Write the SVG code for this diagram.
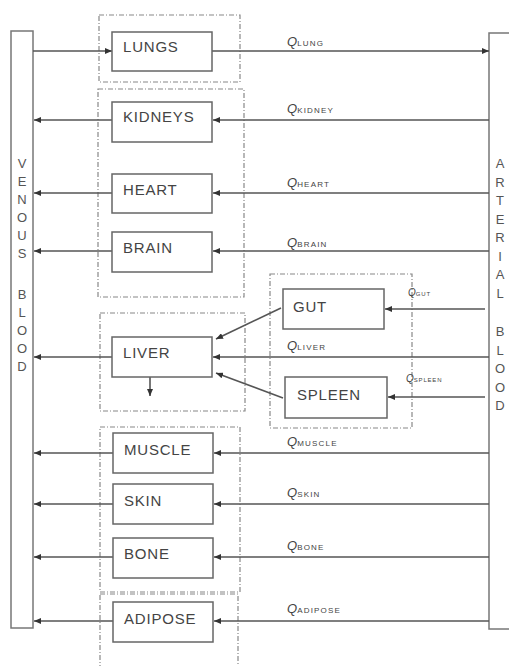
<svg xmlns="http://www.w3.org/2000/svg" width="509" height="666" viewBox="0 0 509 666">
<defs>
<marker id="ah" markerWidth="7" markerHeight="6" refX="7" refY="3" orient="auto" markerUnits="userSpaceOnUse">
<path d="M0,0 L7,3 L0,6 z" fill="#333"/>
</marker>
<style>
.bg{fill:#fff}
.bar{fill:#fff;stroke:#777;stroke-width:1.5}
.box{fill:#fff;stroke:#666;stroke-width:1.5}
.grp{fill:none;stroke:#888;stroke-width:1.2;stroke-dasharray:5,2,1,2}
.lbl{font-family:"Liberation Sans",Arial,sans-serif;font-size:15px;letter-spacing:0.8px;fill:#444}
.vt{font-family:"Liberation Sans",Arial,sans-serif;font-size:13px;fill:#555;text-anchor:middle}
.q{font-family:"Liberation Sans",Arial,sans-serif;font-size:13px;font-style:italic;fill:#444}
.qs{font-size:8px;font-style:normal;letter-spacing:1.2px}
.qsm{font-family:"Liberation Sans",Arial,sans-serif;font-size:10px;font-style:italic;fill:#444}
.qsms{font-size:6px;font-style:normal;letter-spacing:0.8px}
.ln{fill:none;stroke:#555;stroke-width:1.6}
.arr{marker-end:url(#ah)}
</style>
</defs>
<rect class="bg" x="0" y="0" width="509" height="666"/>

<g id="groups">
<rect class="grp" x="99" y="15" width="141" height="67"/>
<rect class="grp" x="98" y="89" width="146" height="208"/>
<rect class="grp" x="100" y="313" width="145" height="98"/>
<rect class="grp" x="270" y="274" width="142" height="154"/>
<rect class="grp" x="100" y="427" width="140" height="165"/>
<rect class="grp" x="100" y="594" width="138" height="90"/>
</g>

<g id="venous-blood">
<rect class="bar" x="11" y="31" width="22" height="597"/>
<text class="vt" x="22" y="168">V</text>
<text class="vt" x="22" y="186">E</text>
<text class="vt" x="22" y="204">N</text>
<text class="vt" x="22" y="222">O</text>
<text class="vt" x="22" y="240">U</text>
<text class="vt" x="22" y="258">S</text>
<text class="vt" x="22" y="299">B</text>
<text class="vt" x="22" y="317">L</text>
<text class="vt" x="22" y="335">O</text>
<text class="vt" x="22" y="353">O</text>
<text class="vt" x="22" y="371">D</text>
</g>

<g id="arterial-blood">
<rect class="bar" x="489" y="33" width="30" height="596"/>
<text class="vt" x="500" y="168">A</text>
<text class="vt" x="500" y="186.5">R</text>
<text class="vt" x="500" y="205">T</text>
<text class="vt" x="500" y="223.5">E</text>
<text class="vt" x="500" y="242">R</text>
<text class="vt" x="500" y="260.5">I</text>
<text class="vt" x="500" y="279">A</text>
<text class="vt" x="500" y="297.5">L</text>
<text class="vt" x="500" y="336">B</text>
<text class="vt" x="500" y="354.5">L</text>
<text class="vt" x="500" y="373">O</text>
<text class="vt" x="500" y="391.5">O</text>
<text class="vt" x="500" y="410">D</text>
</g>

<g id="connectors">
<line class="ln arr" x1="33" y1="51" x2="112" y2="51"/>
<line class="ln arr" x1="212" y1="51" x2="489" y2="51"/>
<line class="ln arr" x1="489" y1="120" x2="213" y2="120"/>
<line class="ln arr" x1="112" y1="120" x2="34" y2="120"/>
<line class="ln arr" x1="489" y1="193" x2="213" y2="193"/>
<line class="ln arr" x1="112" y1="193" x2="34" y2="193"/>
<line class="ln arr" x1="489" y1="251" x2="213" y2="251"/>
<line class="ln arr" x1="112" y1="251" x2="34" y2="251"/>
<line class="ln arr" x1="485" y1="309" x2="385" y2="309"/>
<line class="ln arr" x1="485" y1="397" x2="388" y2="397"/>
<line class="ln arr" x1="489" y1="357" x2="213" y2="357"/>
<line class="ln arr" x1="281" y1="308" x2="216" y2="339"/>
<line class="ln arr" x1="283" y1="398" x2="216" y2="373"/>
<line class="ln arr" x1="112" y1="357" x2="34" y2="357"/>
<line class="ln arr" x1="150" y1="377" x2="150" y2="396"/>
<line class="ln arr" x1="489" y1="453" x2="214" y2="453"/>
<line class="ln arr" x1="113" y1="453" x2="34" y2="453"/>
<line class="ln arr" x1="489" y1="504" x2="214" y2="504"/>
<line class="ln arr" x1="113" y1="504" x2="34" y2="504"/>
<line class="ln arr" x1="489" y1="557" x2="214" y2="557"/>
<line class="ln arr" x1="113" y1="557" x2="34" y2="557"/>
<line class="ln arr" x1="489" y1="621" x2="214" y2="621"/>
<line class="ln arr" x1="113" y1="621" x2="34" y2="621"/>
</g>

<g id="flow-labels">
<text class="q" x="287" y="46">Q<tspan class="qs">LUNG</tspan></text>
<text class="q" x="287" y="113">Q<tspan class="qs">KIDNEY</tspan></text>
<text class="q" x="287" y="187">Q<tspan class="qs">HEART</tspan></text>
<text class="q" x="287" y="247">Q<tspan class="qs">BRAIN</tspan></text>
<text class="qsm" x="408" y="296">Q<tspan class="qsms">GUT</tspan></text>
<text class="q" x="287" y="350">Q<tspan class="qs">LIVER</tspan></text>
<text class="qsm" x="406" y="382">Q<tspan class="qsms">SPLEEN</tspan></text>
<text class="q" x="287" y="446">Q<tspan class="qs">MUSCLE</tspan></text>
<text class="q" x="287" y="497">Q<tspan class="qs">SKIN</tspan></text>
<text class="q" x="287" y="550">Q<tspan class="qs">BONE</tspan></text>
<text class="q" x="287" y="613">Q<tspan class="qs">ADIPOSE</tspan></text>
</g>

<g id="lungs"><rect class="box" x="112" y="32" width="100" height="39"/><text class="lbl" x="123" y="52">LUNGS</text></g>
<g id="kidneys"><rect class="box" x="112" y="102" width="100" height="40"/><text class="lbl" x="123" y="122">KIDNEYS</text></g>
<g id="heart"><rect class="box" x="112" y="174" width="100" height="39"/><text class="lbl" x="123" y="195">HEART</text></g>
<g id="brain"><rect class="box" x="112" y="232" width="100" height="40"/><text class="lbl" x="123" y="253">BRAIN</text></g>
<g id="liver"><rect class="box" x="112" y="337" width="100" height="40"/><text class="lbl" x="123" y="358">LIVER</text></g>
<g id="gut"><rect class="box" x="283" y="289" width="101" height="40"/><text class="lbl" x="293" y="312">GUT</text></g>
<g id="spleen"><rect class="box" x="285" y="377" width="102" height="41"/><text class="lbl" x="297" y="400">SPLEEN</text></g>
<g id="muscle"><rect class="box" x="113" y="433" width="100" height="40"/><text class="lbl" x="124" y="455">MUSCLE</text></g>
<g id="skin"><rect class="box" x="113" y="484" width="100" height="40"/><text class="lbl" x="124" y="506">SKIN</text></g>
<g id="bone"><rect class="box" x="113" y="538" width="100" height="40"/><text class="lbl" x="124" y="559">BONE</text></g>
<g id="adipose"><rect class="box" x="113" y="602" width="100" height="40"/><text class="lbl" x="124" y="624">ADIPOSE</text></g>
</svg>
